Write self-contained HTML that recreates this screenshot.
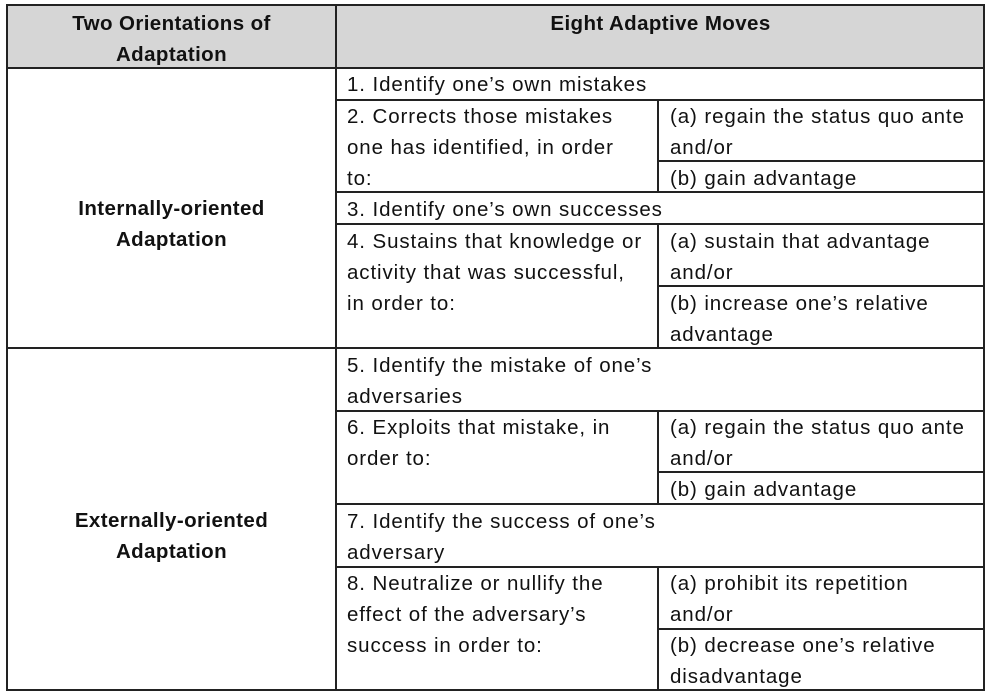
<!DOCTYPE html>
<html><head><meta charset="utf-8"><style>
body{margin:0;width:991px;height:695px;background:#fff;position:relative;overflow:hidden;font-family:"Liberation Sans",Arial,sans-serif;color:#111}
.h{position:absolute;height:2px;background:#222}
.v{position:absolute;width:2px;background:#222}
.t{position:absolute;font-size:20.5px;line-height:31px;white-space:nowrap;letter-spacing:0.9px;margin-top:1px}
.b{font-weight:bold;text-align:center;letter-spacing:0.4px}
</style></head><body>
<div style="position:absolute;left:7px;top:5px;width:977px;height:63px;background:#d6d6d6"></div>
<div class="h" style="left:6px;top:4px;width:979px"></div>
<div class="h" style="left:6px;top:67px;width:979px"></div>
<div class="h" style="left:6px;top:689px;width:979px"></div>
<div class="v" style="left:6px;top:4px;height:687px"></div>
<div class="v" style="left:983px;top:4px;height:687px"></div>
<div class="v" style="left:335px;top:4px;height:687px"></div>
<div class="h" style="left:6px;top:347px;width:979px"></div>
<div class="h" style="left:335px;top:99px;width:650px"></div>
<div class="h" style="left:335px;top:191px;width:650px"></div>
<div class="h" style="left:335px;top:223px;width:650px"></div>
<div class="h" style="left:335px;top:410px;width:650px"></div>
<div class="h" style="left:335px;top:503px;width:650px"></div>
<div class="h" style="left:335px;top:566px;width:650px"></div>
<div class="v" style="left:657px;top:99px;height:94px"></div>
<div class="v" style="left:657px;top:223px;height:126px"></div>
<div class="v" style="left:657px;top:410px;height:95px"></div>
<div class="v" style="left:657px;top:566px;height:125px"></div>
<div class="h" style="left:657px;top:160px;width:328px"></div>
<div class="h" style="left:657px;top:285px;width:328px"></div>
<div class="h" style="left:657px;top:471px;width:328px"></div>
<div class="h" style="left:657px;top:628px;width:328px"></div>
<div class="t b" style="left:7px;width:329px;top:7px">Two Orientations of<br>Adaptation</div>
<div class="t b" style="left:337px;width:647px;top:7px">Eight Adaptive Moves</div>
<div class="t b" style="left:7px;width:329px;top:192px">Internally-oriented<br>Adaptation</div>
<div class="t b" style="left:7px;width:329px;top:504px">Externally-oriented<br>Adaptation</div>
<div class="t" style="left:347px;top:68px">1. Identify one’s own mistakes</div>
<div class="t" style="left:347px;top:100px">2. Corrects those mistakes<br>one has identified, in order<br>to:</div>
<div class="t" style="left:670px;top:100px">(a) regain the status quo ante<br>and/or</div>
<div class="t" style="left:670px;top:162px">(b) gain advantage</div>
<div class="t" style="left:347px;top:193px">3. Identify one’s own successes</div>
<div class="t" style="left:347px;top:225px">4. Sustains that knowledge or<br>activity that was successful,<br>in order to:</div>
<div class="t" style="left:670px;top:225px">(a) sustain that advantage<br>and/or</div>
<div class="t" style="left:670px;top:287px">(b) increase one’s relative<br>advantage</div>
<div class="t" style="left:347px;top:349px">5. Identify the mistake of one’s<br>adversaries</div>
<div class="t" style="left:347px;top:411px">6. Exploits that mistake, in<br>order to:</div>
<div class="t" style="left:670px;top:411px">(a) regain the status quo ante<br>and/or</div>
<div class="t" style="left:670px;top:473px">(b) gain advantage</div>
<div class="t" style="left:347px;top:505px">7. Identify the success of one’s<br>adversary</div>
<div class="t" style="left:347px;top:567px">8. Neutralize or nullify the<br>effect of the adversary’s<br>success in order to:</div>
<div class="t" style="left:670px;top:567px">(a) prohibit its repetition<br>and/or</div>
<div class="t" style="left:670px;top:629px">(b) decrease one’s relative<br>disadvantage</div>
</body></html>
